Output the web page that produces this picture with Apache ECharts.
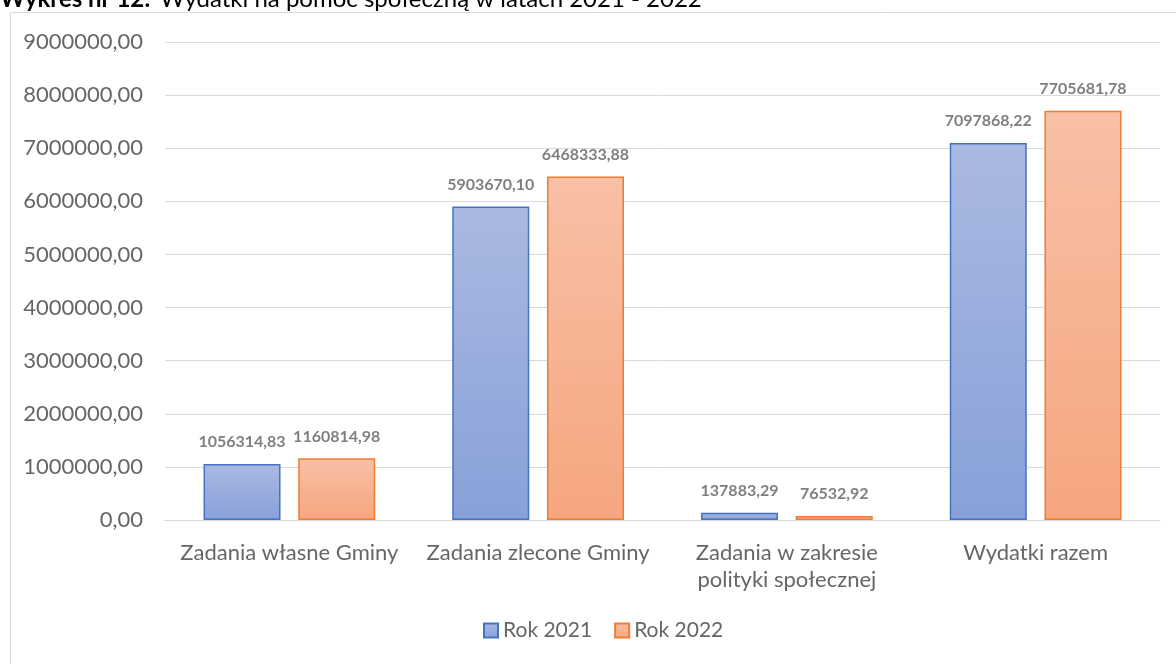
<!DOCTYPE html>
<html>
<head>
<meta charset="utf-8">
<script src="https://cdn.jsdelivr.net/npm/echarts@6/dist/echarts.min.js"></script>
<style>
  html, body { margin: 0; padding: 0; background: #fff; }
  #chart { width: 1176px; height: 664px; }
</style>
</head>
<body>
<div id="chart"></div>
<script>
var categories = ['Zadania własne Gminy', 'Zadania zlecone Gminy', 'Zadania w zakresie\npolityki społecznej', 'Wydatki razem']
var rok2021 = [1056314.83, 5903670.10, 137883.29, 7097868.22]
var rok2022 = [1160814.98, 6468333.88, 76532.92, 7705681.78]
var seriesNames = ['Rok 2021', 'Rok 2022']

var FONT = 'Lato, "Liberation Sans", sans-serif'

function fmt(v) {
  return Number(v).toFixed(2).replace('.', ',')
}

var chart = echarts.init(document.getElementById('chart'))
chart.setOption({
  animation: false,
  textStyle: { fontFamily: FONT },
  graphic: [
    {
      type: 'rect',
      shape: { x: 10.5, y: 12.5, width: 1180, height: 670 },
      style: { fill: 'none', stroke: '#d9d9d9', lineWidth: 1 }
    },
    {
      type: 'text',
      x: 0,
      y: -13,
      style: {
        text: 'Wykres nr 12:',
        font: 'bold 24px ' + FONT,
        fill: '#000',
        verticalAlign: 'top'
      }
    },
    {
      type: 'text',
      x: 160,
      y: -13,
      style: {
        text: 'Wydatki na pomoc społeczną w latach 2021 - 2022',
        font: '24px ' + FONT,
        fill: '#000',
        verticalAlign: 'top'
      }
    }
  ],
  legend: {
    data: seriesNames,
    bottom: 18,
    left: 478,
    itemWidth: 14,
    itemHeight: 14,
    itemGap: 22,
    icon: 'rect',
    textStyle: { fontSize: 21, color: '#666', fontFamily: FONT }
  },
  grid: {
    left: 165,
    right: 16,
    top: 42,
    bottom: 144
  },
  xAxis: {
    type: 'category',
    data: categories,
    axisLine: { lineStyle: { color: '#d9d9d9', width: 1 } },
    axisTick: { show: false },
    axisLabel: {
      fontSize: 22,
      color: '#666',
      margin: 19,
      lineHeight: 27,
      interval: 0,
      fontFamily: FONT
    }
  },
  yAxis: {
    type: 'value',
    min: 0,
    max: 9000000,
    interval: 1000000,
    axisLine: { show: false },
    axisTick: { show: false },
    splitLine: { lineStyle: { color: '#d9d9d9', width: 1 } },
    axisLabel: {
      fontSize: 22,
      color: '#666',
      margin: 22,
      fontFamily: FONT,
      formatter: function (v) { return fmt(v) }
    }
  },
  series: [
    {
      name: seriesNames[0],
      type: 'bar',
      data: rok2021,
      barWidth: 77,
      barGap: '23%',
      itemStyle: {
        borderColor: '#4472c4',
        borderWidth: 1.5,
        color: new echarts.graphic.LinearGradient(0, 0, 0, 1, [
          { offset: 0, color: '#aab9e1' },
          { offset: 1, color: '#88a1d9' }
        ])
      },
      label: {
        show: true,
        position: 'top',
        distance: 14,
        fontSize: 16,
        fontWeight: 'bold',
        color: '#7f7f7f',
        fontFamily: FONT,
        formatter: function (p) { return fmt(p.value) }
      }
    },
    {
      name: seriesNames[1],
      type: 'bar',
      data: rok2022,
      barWidth: 77,
      itemStyle: {
        borderColor: '#ed7d31',
        borderWidth: 1.5,
        color: new echarts.graphic.LinearGradient(0, 0, 0, 1, [
          { offset: 0, color: '#f8c0a6' },
          { offset: 1, color: '#f6a67f' }
        ])
      },
      label: {
        show: true,
        position: 'top',
        distance: 14,
        fontSize: 16,
        fontWeight: 'bold',
        color: '#7f7f7f',
        fontFamily: FONT,
        formatter: function (p) { return fmt(p.value) }
      }
    }
  ]
})
</script>
</body>
</html>
